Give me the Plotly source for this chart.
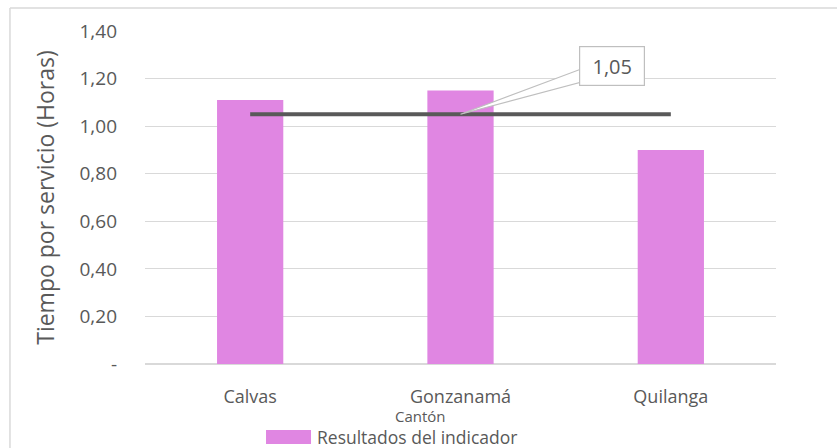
import plotly.graph_objects as go

# Data
cantones = ["Calvas", "Gonzanamá", "Quilanga"]
horas = [1.11, 1.15, 0.90]
tick_vals = [0, 0.2, 0.4, 0.6, 0.8, 1.0, 1.2, 1.4]
tick_text = ["-", "0,20", "0,40", "0,60", "0,80", "1,00", "1,20", "1,40"]
serie = "Resultados del indicador"
eje_x = "Cantón"
eje_y = "Tiempo por servicio (Horas)"

promedio = round(sum(horas) / len(horas), 2)
promedio_txt = f"{promedio:.2f}".replace(".", ",")

FONT = "Open Sans"
GRAY = "#595959"
GRID = "#d9d9d9"
BAR = "#E086E2"

fig = go.Figure()
fig.add_trace(go.Bar(
    x=cantones, y=horas, name=serie,
    marker=dict(color=BAR, line=dict(width=0)), width=0.315,
))
fig.add_trace(go.Scatter(
    x=cantones, y=[promedio] * len(cantones), mode="lines",
    line=dict(color=GRAY, width=4), showlegend=False, hoverinfo="skip",
))

# callout wedge from the average line to the label box
fig.add_shape(
    type="path", xref="x", yref="y", xsizemode="pixel", ysizemode="pixel",
    xanchor=1, yanchor=promedio,
    path="M0,0 L120,45 L120,32 Z",
    fillcolor="white", line=dict(color="#bfbfbf", width=1.2), layer="above",
)
fig.add_annotation(
    x=1, y=promedio, xref="x", yref="y", text=promedio_txt, showarrow=False,
    xshift=151, yshift=48, width=62, height=36,
    bgcolor="white", bordercolor="#bfbfbf", borderwidth=1.2,
    font=dict(family=FONT, size=20, color=GRAY),
)

# x-axis title
fig.add_annotation(
    x=0.436, y=-0.156, xref="paper", yref="paper", text=eje_x,
    showarrow=False, yanchor="middle",
    font=dict(family=FONT, size=15, color=GRAY),
)

# legend: wide swatch plus label
fig.add_shape(type="rect", xref="paper", yref="paper",
              x0=0.1918, x1=0.2631, y0=-0.1982, y1=-0.2402,
              fillcolor=BAR, line=dict(width=0))
fig.add_annotation(
    x=0.2695, y=-0.2192, xref="paper", yref="paper", text=serie,
    showarrow=False, xanchor="left", yanchor="middle",
    font=dict(family=FONT, size=17.5, color=GRAY),
)

# chart frame (top and left edges)
fig.add_shape(type="line", xref="paper", yref="paper",
              x0=-0.214, x1=1.2, y0=1.069, y1=1.069,
              line=dict(color=GRID, width=1.5))
fig.add_shape(type="line", xref="paper", yref="paper",
              x0=-0.214, x1=-0.214, y0=-0.3, y1=1.069,
              line=dict(color=GRID, width=1.5))

fig.update_layout(
    width=837, height=448,
    margin=dict(l=145, r=61, t=31, b=84, autoexpand=False),
    paper_bgcolor="white", plot_bgcolor="white",
    font=dict(family=FONT, color=GRAY),
    showlegend=False,
    xaxis=dict(showgrid=False, showline=False, ticks="", ticklabelstandoff=20,
               tickfont=dict(family=FONT, size=18, color=GRAY)),
    yaxis=dict(range=[0, 1.4], tickvals=tick_vals, ticktext=tick_text,
               showgrid=True, gridcolor=GRID, gridwidth=1,
               zeroline=True, zerolinecolor=GRID, zerolinewidth=1.5,
               showline=False, ticks="", ticklabelstandoff=27,
               tickfont=dict(family=FONT, size=19, color=GRAY),
               title=dict(text=eje_y, standoff=18,
                          font=dict(family=FONT, size=23, color=GRAY))),
)

fig.write_html("out.html")
